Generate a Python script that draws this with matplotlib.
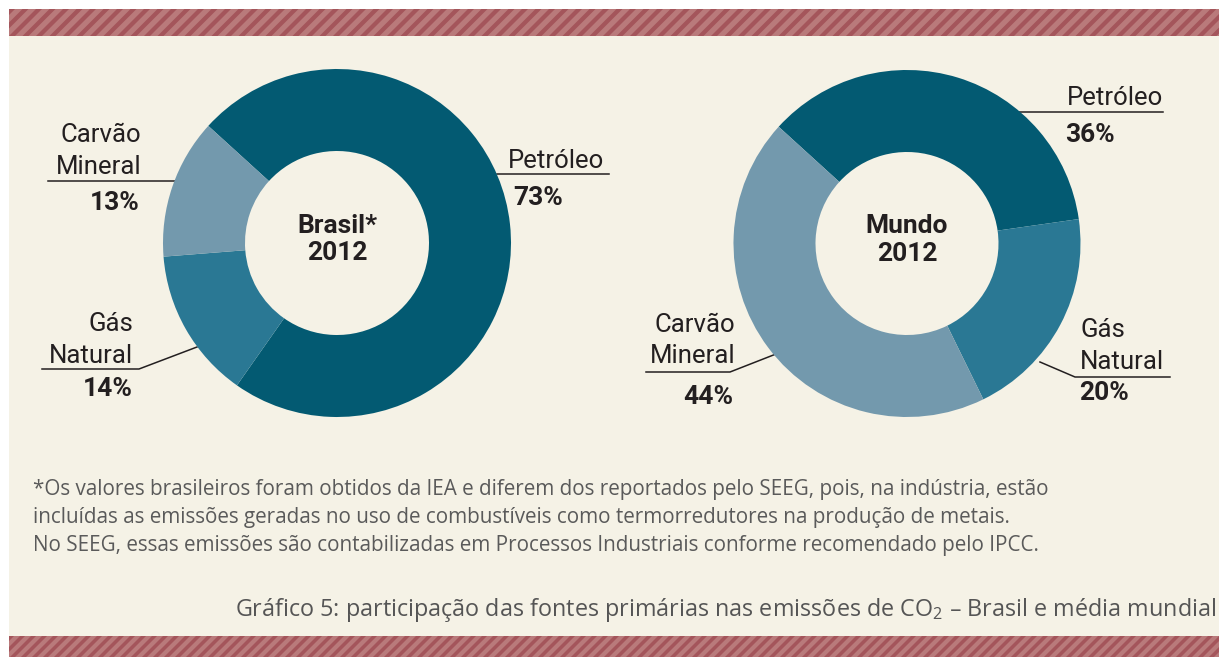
import matplotlib
matplotlib.use("Agg")
import matplotlib.pyplot as plt
from matplotlib.patches import Rectangle, Polygon

# ---------------- data ----------------
categories = ["Petróleo", "Gás Natural", "Carvão Mineral"]
brasil_values = [73, 14, 13]
mundo_values = [36, 20, 44]
brasil_title = "Brasil*\n2012"
mundo_title = "Mundo\n2012"
footnote_lines = [
    "*Os valores brasileiros foram obtidos da IEA e diferem dos reportados pelo SEEG, pois, na indústria, estão",
    "incluídas as emissões geradas no uso de combustíveis como termorredutores na produção de metais.",
    "No SEEG, essas emissões são contabilizadas em Processos Industriais conforme recomendado pelo IPCC.",
]
caption = "Gráfico 5: participação das fontes primárias nas emissões de CO$_2$ – Brasil e média mundial"

# ---------------- style ----------------
colors = ["#035a72", "#2a7894", "#7399ad"]
bg = "#f5f2e6"
band_light = "#b97a7b"
band_dark = "#a4555b"
txt = "#231f20"
W, H = 1219, 657
plt.rcParams["mathtext.default"] = "regular"

fig = plt.figure(figsize=(W / 100, H / 100), dpi=100, facecolor="white")
ov = fig.add_axes([0, 0, 1, 1])
ov.set_xlim(0, W)
ov.set_ylim(H, 0)
ov.axis("off")

# background and striped bands
ov.add_patch(Rectangle((9, 9), W - 9, H - 9, facecolor=bg, edgecolor="none", zorder=0))
for (y0, y1, period, sw) in [(9, 36, 13.5, 6.0), (636, 657, 11.0, 5.0)]:
    ov.add_patch(Rectangle((9, y0), W - 9, y1 - y0, facecolor=band_light, edgecolor="none", zorder=1))
    h = y1 - y0
    x = 9 - h
    while x < W:
        ov.add_patch(Polygon([(x, y1), (x + sw, y1), (x + sw + h, y0), (x + h, y0)], closed=True,
                             facecolor=band_dark, edgecolor="none", zorder=2))
        x += period
# white margins on top of the stripes' overflow
ov.add_patch(Rectangle((0, 0), 9, H, facecolor="white", edgecolor="none", zorder=3))
ov.add_patch(Rectangle((0, 0), W, 9, facecolor="white", edgecolor="none", zorder=3))


def donut(cx, cy, r_out, r_in, values, title):
    ax = fig.add_axes([(cx - r_out) / W, (H - cy - r_out) / H, 2 * r_out / W, 2 * r_out / H])
    ax.pie(values, colors=colors, startangle=137.7, counterclock=False, radius=1,
           wedgeprops=dict(width=1 - r_in / r_out, edgecolor="none", linewidth=0))
    ax.set_xlim(-1, 1)
    ax.set_ylim(-1, 1)
    ax.set_aspect("auto")
    ax.axis("off")
    ax.text(0, 0.02, title, ha="center", va="center", fontsize=19, fontweight="bold",
            color=txt, family="Roboto", linespacing=1.2)
    return ax


donut(337, 243, 174, 92, brasil_values, brasil_title)
donut(907, 243.5, 173.5, 91.5, mundo_values, mundo_title)

lab_fs = 18.5
pct_fs = 19
lk = dict(color=txt, family="Roboto", fontsize=lab_fs)
pk = dict(color=txt, family="Roboto", fontsize=pct_fs, fontweight="bold")
line_kw = dict(color="#231f20", lw=1.1, zorder=5)

# ---- Brasil labels ----
# Petróleo
ov.text(508, 161, "Petróleo", ha="left", va="center", **lk)
ov.plot([497, 609], [174, 174], **line_kw)
ov.text(513, 198, f"{brasil_values[0]}%", ha="left", va="center", **pk)
# Carvão Mineral
ov.text(141, 135, "Carvão", ha="right", va="center", **lk)
ov.text(141, 167, "Mineral", ha="right", va="center", **lk)
ov.plot([48, 175], [181, 181], **line_kw)
ov.text(140, 203, f"{brasil_values[2]}%", ha="right", va="center", **pk)
# Gás Natural
ov.text(133, 324, "Gás", ha="right", va="center", **lk)
ov.text(133, 356, "Natural", ha="right", va="center", **lk)
ov.plot([42, 139, 197], [369, 369, 347], **line_kw)
ov.text(133, 389, f"{brasil_values[1]}%", ha="right", va="center", **pk)

# ---- Mundo labels ----
ov.text(1163, 98, "Petróleo", ha="right", va="center", **lk)
ov.plot([1010, 1163], [112, 112], **line_kw)
ov.text(1065, 135, f"{mundo_values[0]}%", ha="left", va="center", **pk)
# Gás Natural
ov.text(1080, 330, "Gás", ha="left", va="center", **lk)
ov.text(1080, 362, "Natural", ha="left", va="center", **lk)
ov.plot([1040, 1075, 1170], [362, 377, 377], **line_kw)
ov.text(1079, 393, f"{mundo_values[1]}%", ha="left", va="center", **pk)
# Carvão Mineral
ov.text(735, 325, "Carvão", ha="right", va="center", **lk)
ov.text(735, 356, "Mineral", ha="right", va="center", **lk)
ov.plot([646, 730, 776], [372, 372, 354], **line_kw)
ov.text(733, 397, f"{mundo_values[2]}%", ha="right", va="center", **pk)

# ---- footnote ----
for i, line in enumerate(footnote_lines):
    ov.text(33, 490 + i * 27.5, line, ha="left", va="center", fontsize=14.9,
            family="Open Sans", color="#5a5a5a")

ov.text(1216, 610, caption, ha="right", va="center", fontsize=16.8,
        family="Open Sans", color="#555555")

fig.savefig("out.png", dpi=100, facecolor="white")
